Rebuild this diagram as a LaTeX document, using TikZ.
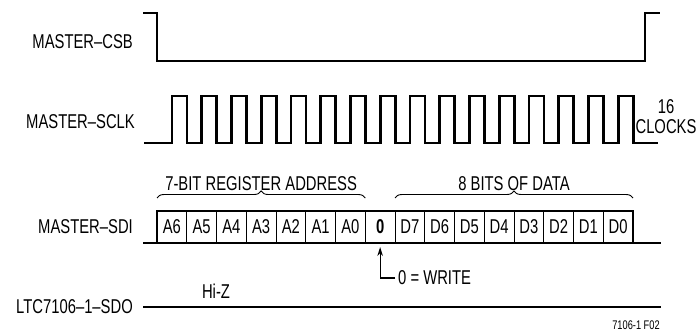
\documentclass[tikz,border=0pt]{standalone}
\usepackage{fontspec}
\setmainfont[FakeStretch=0.74]{Liberation Sans}
\usetikzlibrary{positioning,arrows.meta,decorations.pathreplacing}

\begin{document}
\begin{tikzpicture}[%
		x=1pt,
		y=-1pt,
		>={Stealth[length=9pt,width=5.5pt]},
		node distance=0pt,
		font=\fontsize{20}{20}\selectfont,
		wave/.style={line width=2.9pt},
		sig/.style={anchor=east, inner sep=0pt},
		bit/.style={%
			minimum width=29.75pt,
			minimum height=32pt,
			inner sep=0pt,
			outer sep=0pt,
			line width=0.9pt,
			draw
		},
		brc/.style={%
			decorate,
			decoration={brace, amplitude=7pt},
			line width=0.9pt
		}
		]
		\useasboundingbox (0,0) rectangle (698,331);
		
		\node[sig] (csb)  at (133,42)  {MASTER–CSB};
		\node[sig] (sclk) at (135,122) {MASTER–SCLK};
		\node[sig] (sdi)  at (133,227) {MASTER–SDI};
		\node[sig] (sdo)  at (133,307) {LTC7106–1–SDO};
		
		\draw[wave] (143,13) -| (157,61) -| (645,13) -- (660,13);
		
		\draw[wave] (144,143) -- (172,143)
			\foreach \k in {1,...,16} {-- ++(0,-47) -- ++(15,0) -- ++(0,47) -- ++(14.75,0)}
			-- (658,143);
		\node[align=center] (clk) at (666,117) {16\\CLOCKS};
		
		\node[bit, anchor=north west] (a6) at (157,211) {A6};
		\node[bit] (a5) [right=of a6] {A5};
		\node[bit] (a4) [right=of a5] {A4};
		\node[bit] (a3) [right=of a4] {A3};
		\node[bit] (a2) [right=of a3] {A2};
		\node[bit] (a1) [right=of a2] {A1};
		\node[bit] (a0) [right=of a1] {A0};
		\node[bit] (rw) [right=of a0] {\bfseries 0};
		\node[bit] (d7) [right=of rw] {D7};
		\node[bit] (d6) [right=of d7] {D6};
		\node[bit] (d5) [right=of d6] {D5};
		\node[bit] (d4) [right=of d5] {D4};
		\node[bit] (d3) [right=of d4] {D3};
		\node[bit] (d2) [right=of d3] {D2};
		\node[bit] (d1) [right=of d2] {D1};
		\node[bit] (d0) [right=of d1] {D0};
		
		\draw[wave] (a6.south west) |- (d0.north east) -- (d0.south east);
		\draw[wave] (143,243) -- (661,243);
		
		\draw[brc] ([yshift=13pt]a6.north west) -- ([yshift=13pt]a0.north east)
			node[midway, above=7pt, inner sep=0pt] (adr) {7-BIT REGISTER ADDRESS};
		\draw[brc] ([yshift=13pt]d7.north west) -- ([yshift=13pt]d0.north east)
			node[midway, above=7pt, inner sep=0pt] (dat) {8 BITS OF DATA};
		
		\node[anchor=west, inner sep=3pt] (wr) at (395,278) {0 = WRITE};
		\draw[->, line width=1.1pt, shorten >=4pt] (wr.west) -| (rw.south);
		
		\node (hiz) at (216,291) {Hi-Z};
		\draw[wave] (143,307) -- (661,307);
		
		\node[font=\fontsize{12.5}{13}\selectfont] (fig) at (636,325) {7106-1 F02};
		\end{tikzpicture}
\end{document}
